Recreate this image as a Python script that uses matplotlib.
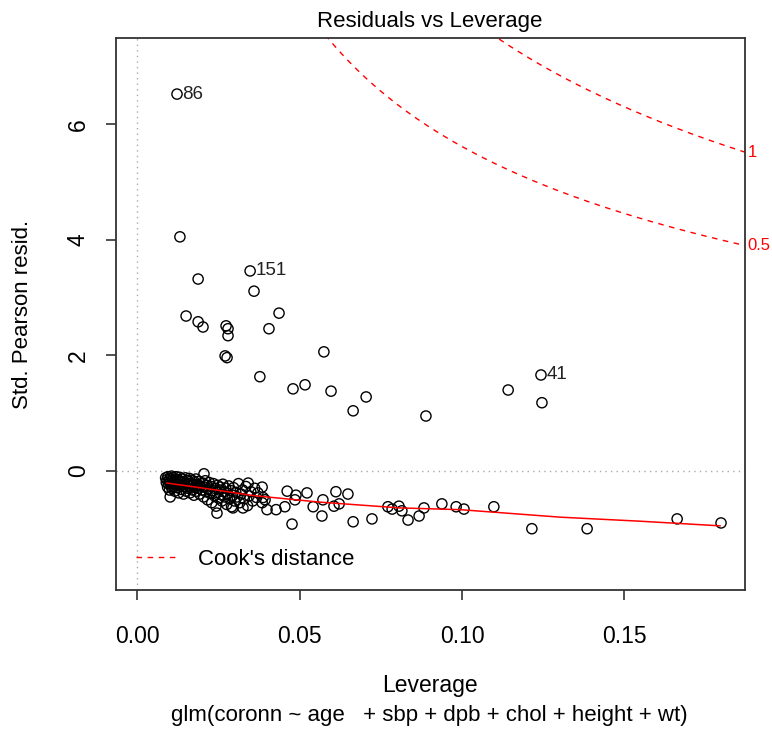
import numpy as np
import matplotlib.pyplot as plt

plt.rcParams['font.family'] = ['Liberation Sans', 'DejaVu Sans']

# Leverage and standardized Pearson residuals
# points above the zero line
lev_hi = [0.0123, 0.0132, 0.0188, 0.0348, 0.0360, 0.0151, 0.0188, 0.0203, 0.0274,
          0.0280, 0.0280, 0.0271, 0.0277, 0.0437, 0.0406, 0.0378, 0.0575, 0.0480,
          0.0517, 0.0597, 0.0705, 0.0665, 0.0889, 0.1142, 0.1243, 0.1246]
res_hi = [6.52, 4.05, 3.32, 3.46, 3.11, 2.68, 2.58, 2.49, 2.51,
          2.46, 2.34, 1.99, 1.96, 2.73, 2.46, 1.63, 2.06, 1.42,
          1.49, 1.38, 1.28, 1.04, 0.95, 1.40, 1.66, 1.18]

# dense cluster just below zero
lev_lo = [0.0088, 0.0090, 0.0092, 0.0094, 0.0095, 0.0097, 0.0099, 0.0100, 0.0101, 0.0103,
          0.0104, 0.0106, 0.0107, 0.0109, 0.0110, 0.0112, 0.0113, 0.0115, 0.0116, 0.0118,
          0.0119, 0.0120, 0.0122, 0.0124, 0.0126, 0.0128, 0.0129, 0.0131, 0.0133, 0.0135,
          0.0137, 0.0139, 0.0141, 0.0143, 0.0145, 0.0147, 0.0149, 0.0151, 0.0153, 0.0155,
          0.0157, 0.0159, 0.0161, 0.0163, 0.0165, 0.0167, 0.0169, 0.0171, 0.0173, 0.0175,
          0.0177, 0.0179, 0.0181, 0.0183, 0.0186, 0.0188, 0.0190, 0.0193, 0.0195, 0.0206,
          0.0200, 0.0202, 0.0205, 0.0207, 0.0210, 0.0212, 0.0215, 0.0217, 0.0220, 0.0222,
          0.0225, 0.0228, 0.0230, 0.0233, 0.0235, 0.0238, 0.0240, 0.0243, 0.0245, 0.0248,
          0.0250, 0.0253, 0.0256, 0.0258, 0.0261, 0.0264, 0.0267, 0.0270, 0.0273, 0.0276,
          0.0279, 0.0282, 0.0285, 0.0288, 0.0291, 0.0294, 0.0297, 0.0300, 0.0304, 0.0308,
          0.0312, 0.0316, 0.0320, 0.0325, 0.0330, 0.0335, 0.0340, 0.0345, 0.0350, 0.0356,
          0.0362, 0.0368, 0.0102, 0.0246, 0.0295, 0.0326, 0.0342, 0.0385, 0.0394, 0.0400,
          0.0372, 0.0388, 0.0385, 0.0428, 0.0455, 0.0462, 0.0489, 0.0477, 0.0486, 0.0523,
          0.0542, 0.0569, 0.0572, 0.0612, 0.0649, 0.0606, 0.0622, 0.0665, 0.0723, 0.0772,
          0.0785, 0.0806, 0.0815, 0.0834, 0.0868, 0.0883, 0.0938, 0.0982, 0.1006, 0.1098,
          0.1215, 0.1385, 0.1662, 0.1797]
res_lo = [-0.12, -0.20, -0.15, -0.28, -0.10, -0.22, -0.17, -0.33, -0.13, -0.25,
          -0.19, -0.09, -0.30, -0.16, -0.22, -0.12, -0.27, -0.18, -0.35, -0.14,
          -0.24, -0.10, -0.20, -0.29, -0.15, -0.38, -0.22, -0.11, -0.26, -0.18,
          -0.32, -0.14, -0.24, -0.40, -0.19, -0.28, -0.12, -0.35, -0.22, -0.17,
          -0.30, -0.25, -0.13, -0.38, -0.21, -0.27, -0.16, -0.33, -0.23, -0.42,
          -0.19, -0.29, -0.14, -0.35, -0.24, -0.30, -0.18, -0.40, -0.26, -0.05,
          -0.33, -0.21, -0.45, -0.28, -0.17, -0.36, -0.25, -0.50, -0.31, -0.20,
          -0.39, -0.27, -0.55, -0.34, -0.22, -0.43, -0.30, -0.61, -0.37, -0.25,
          -0.47, -0.33, -0.28, -0.41, -0.52, -0.23, -0.36, -0.45, -0.30, -0.58,
          -0.39, -0.26, -0.48, -0.34, -0.62, -0.42, -0.29, -0.52, -0.37, -0.45,
          -0.22, -0.55, -0.40, -0.33, -0.48, -0.27, -0.60, -0.43, -0.36, -0.52,
          -0.30, -0.46, -0.45, -0.73, -0.64, -0.64, -0.21, -0.28, -0.50, -0.67,
          -0.38, -0.46, -0.55, -0.67, -0.62, -0.35, -0.42, -0.92, -0.50, -0.38,
          -0.62, -0.78, -0.50, -0.36, -0.40, -0.61, -0.57, -0.88, -0.83, -0.62,
          -0.66, -0.61, -0.69, -0.85, -0.78, -0.64, -0.57, -0.62, -0.66, -0.62,
          -1.00, -1.00, -0.83, -0.90]

# smoothed red line
smooth_x = [0.0092, 0.0194, 0.0363, 0.0563, 0.0809, 0.0994, 0.1302, 0.1548, 0.1794]
smooth_y = [-0.21, -0.29, -0.43, -0.54, -0.64, -0.67, -0.80, -0.87, -0.95]

# labelled observations
label_ids = ['86', '151', '41']
label_x = [0.0123, 0.0348, 0.1243]
label_y = [6.52, 3.46, 1.66]

# Cook's distance contours
cook_levels = [0.5, 1]
n_params = 7

x_lim = (-0.00646, 0.1871)
y_lim = (-2.06, 7.49)

fig = plt.figure(figsize=(7.72, 7.31), dpi=100)
ax = fig.add_axes([0.1503, 0.1929, 0.8148, 0.7551])

# dotted reference lines
ax.axhline(0, color='#aaaaaa', linestyle=(0, (1, 3)), lw=1)
ax.axvline(0, color='#aaaaaa', linestyle=(0, (1, 3)), lw=1)

# points
ax.scatter(lev_hi + lev_lo, res_hi + res_lo, s=54, facecolors='none',
           edgecolors='black', linewidths=1.0, zorder=3)

# smoother
ax.plot(smooth_x, smooth_y, color='red', lw=1.1, zorder=4)

# Cook's distance curves
hh = np.linspace(0.001, x_lim[1], 200)
for d in cook_levels:
    rr = np.sqrt(d * n_params * (1 - hh) / hh)
    ax.plot(hh, rr, color='red', lw=1, dashes=(4, 4))
    ax.plot(hh, -rr, color='red', lw=1, dashes=(4, 4))
    yr = np.sqrt(d * n_params * (1 - x_lim[1]) / x_lim[1])
    ax.text(x_lim[1] + 0.0008, yr, '{:g}'.format(d), color='red', fontsize=12,
            ha='left', va='center', clip_on=False)

# labels for extreme points
for lab, lx, ly in zip(label_ids, label_x, label_y):
    ax.annotate(lab, (lx, ly), xytext=(4, 0), textcoords='offset points',
                ha='left', va='center', fontsize=13.5, color='#222222')

ax.plot([], [], color='red', lw=1, dashes=(4, 4), label="Cook's distance")
ax.legend(loc='lower left', bbox_to_anchor=(0.0, 0.0), frameon=False,
          fontsize=16, handlelength=1.9, handletextpad=0.9)

ax.set_xlim(x_lim)
ax.set_ylim(y_lim)
ax.set_xticks([0.00, 0.05, 0.10, 0.15])
ax.set_xticklabels(['0.00', '0.05', '0.10', '0.15'])
ax.set_yticks([0, 2, 4, 6])
ax.set_yticklabels(['0', '2', '4', '6'], rotation=90, va='center')
ax.tick_params(axis='both', labelsize=16.5, length=7, width=1.2, color='#333333')
ax.tick_params(axis='x', pad=18)
ax.tick_params(axis='y', pad=12)
for sp in ax.spines.values():
    sp.set_color('#333333')
    sp.set_linewidth(1.3)

fig.text(0.5563, 0.971, 'Residuals vs Leverage', ha='center', va='center', fontsize=16)
fig.text(0.0285, 0.57, 'Std. Pearson resid.', ha='center', va='center',
         rotation=90, fontsize=16)
fig.text(0.5563, 0.062, 'Leverage', ha='center', va='center', fontsize=16.5)
fig.text(0.5563, 0.021, 'glm(coronn ~ age   + sbp + dpb + chol + height + wt)',
         ha='center', va='center', fontsize=16)

fig.savefig('out.png', dpi=100)
